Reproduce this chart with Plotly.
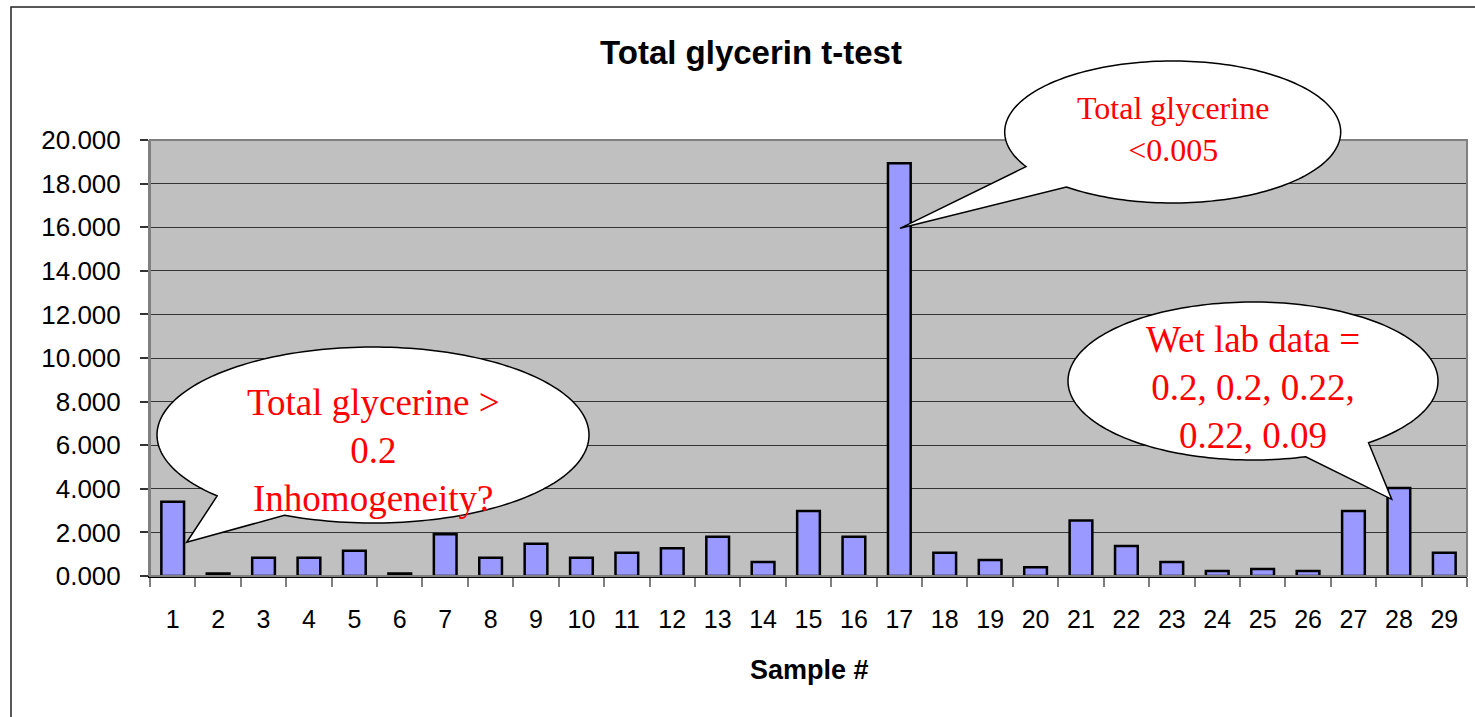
import math
import plotly.graph_objects as go

# ---- data ----
samples = [str(i) for i in range(1, 30)]
values = [3.41, 0.12, 0.84, 0.84, 1.16, 0.12, 1.91, 0.84, 1.48, 0.84,
          1.07, 1.27, 1.80, 0.64, 2.98, 1.80, 18.93, 1.07, 0.73, 0.40,
          2.55, 1.38, 0.64, 0.23, 0.32, 0.23, 2.98, 4.04, 1.07]
y_ticks = [0, 2, 4, 6, 8, 10, 12, 14, 16, 18, 20]

callout_texts = [
    "Total glycerine ><br>0.2<br>Inhomogeneity?",
    "Total glycerine<br><0.005",
    "Wet lab data =<br>0.2, 0.2, 0.22,<br>0.22, 0.09",
]

# ---- layout geometry (pixels) ----
W, H = 1475, 717
L, R, T, B = 150, 8, 140, 141
PW, PH = W - L - R, H - T - B


def to_paper(px, py):
    return (px - L) / PW, (H - B - py) / PH


def callout_path(cx, cy, rx, ry, base1, base2, tip, n=200):
    def ang(p):
        return math.atan2((p[1] - cy) / ry, (p[0] - cx) / rx)
    a1, a2 = ang(base1), ang(base2)
    d = (a1 - a2) % (2 * math.pi)
    if d < math.pi:
        d -= 2 * math.pi
    pts = []
    for i in range(n + 1):
        a = a2 + d * i / n
        pts.append((cx + rx * math.cos(a), cy + ry * math.sin(a)))
    pts.append(tip)
    s = ""
    for i, (px, py) in enumerate(pts):
        X, Y = to_paper(px, py)
        s += ("M" if i == 0 else "L") + f"{X:.5f},{Y:.5f} "
    return s + "Z"


callouts = [
    dict(cx=373, cy=435, rx=216, ry=88, b1=(217, 496), b2=(284, 515.7), tip=(186.7, 542.3),
         tx=373, ty=450, size=37),
    dict(cx=1172.7, cy=132, rx=168, ry=71, b1=(1025.7, 166.7), b2=(1065.7, 187.3), tip=(900, 228.3),
         tx=1173, ty=129, size=32),
    dict(cx=1253, cy=381, rx=185, ry=79, b1=(1305, 455.7), b2=(1366.7, 441.7), tip=(1391.7, 499.3),
         tx=1253, ty=387, size=37),
]

fig = go.Figure()
fig.add_trace(go.Bar(
    x=samples, y=values, width=0.5,
    marker=dict(color="#9999FF", line=dict(color="black", width=2.5)),
    hoverinfo="x+y",
))

shapes = []
# outer chart frame
fx0, fy0 = to_paper(11, 7)
shapes.append(dict(type="rect", xref="paper", yref="paper", x0=fx0, y0=-0.6, x1=1.1, y1=fy0,
                   line=dict(color="#222222", width=1.5), layer="below"))
# plot area border
shapes.append(dict(type="rect", xref="paper", yref="paper", x0=0, y0=0, x1=1, y1=1,
                   line=dict(color="#808080", width=2), layer="above"))

annotations = []
for c, txt in zip(callouts, callout_texts):
    shapes.append(dict(type="path", xref="paper", yref="paper",
                       path=callout_path(c["cx"], c["cy"], c["rx"], c["ry"], c["b1"], c["b2"], c["tip"]),
                       fillcolor="white", line=dict(color="black", width=1.5), layer="above"))
    X, Y = to_paper(c["tx"], c["ty"])
    annotations.append(dict(xref="paper", yref="paper", x=X, y=Y, text=txt, showarrow=False,
                            xanchor="center", yanchor="middle", align="center",
                            font=dict(family="Liberation Serif, Times New Roman, serif",
                                      size=c["size"], color="red")))

sx, sy = to_paper(809, 670)
annotations.append(dict(xref="paper", yref="paper", x=sx, y=sy, text="<b>Sample #</b>",
                        showarrow=False, xanchor="center", yanchor="middle",
                        font=dict(family="Liberation Sans, Arial, sans-serif", size=27, color="black")))

fig.update_layout(
    width=W, height=H,
    margin=dict(l=L, r=R, t=T, b=B, pad=0),
    paper_bgcolor="white", plot_bgcolor="#C0C0C0",
    showlegend=False,
    title=dict(text="<b>Total glycerin t-test</b>", xref="container", yref="container",
               x=751 / W, y=1 - 52 / H, xanchor="center", yanchor="middle",
               font=dict(family="Liberation Sans, Arial, sans-serif", size=33, color="black")),
    font=dict(family="Liberation Sans, Arial, sans-serif", color="black"),
    shapes=shapes,
    annotations=annotations,
    bargap=0.5,
)
fig.update_xaxes(type="category", range=[-0.5, 28.5], tickson="boundaries",
                 ticks="outside", ticklen=9, tickwidth=1.5, tickcolor="#808080",
                 showline=True, linecolor="black", linewidth=1.5,
                 showgrid=False, tickfont=dict(size=25), ticklabelstandoff=20)
fig.update_yaxes(range=[0, 20], tickvals=y_ticks, tickformat=".3f",
                 ticks="outside", ticklen=8, tickwidth=1.5, tickcolor="#333333",
                 showline=True, linecolor="#808080", linewidth=2,
                 showgrid=True, gridcolor="#333333", gridwidth=1, zeroline=False,
                 tickfont=dict(size=26), ticklabelstandoff=14)

fig.write_html("out.html", config={"displayModeBar": False},
               post_script="document.body.style.margin='0';")
